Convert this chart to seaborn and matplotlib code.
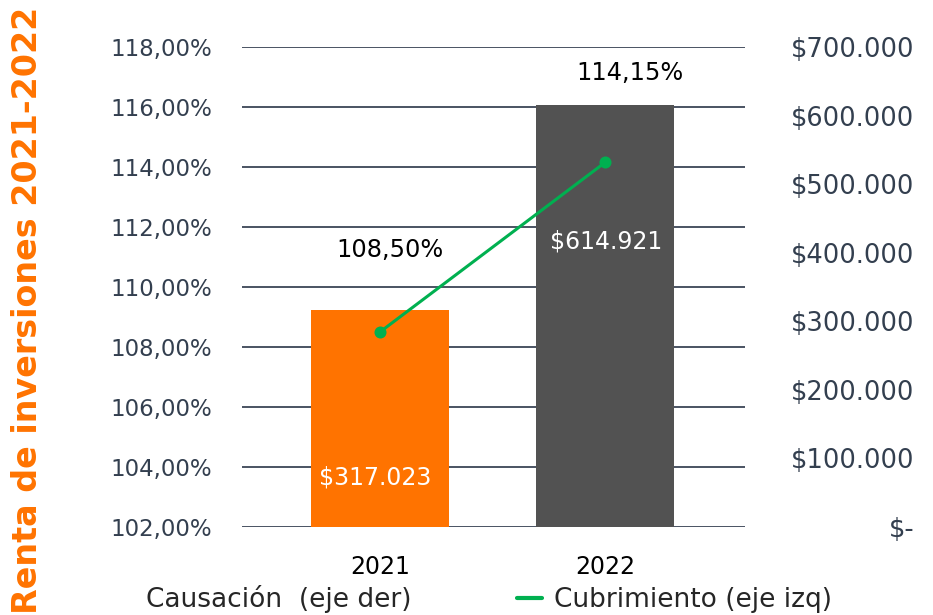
import matplotlib
matplotlib.use("Agg")
import matplotlib.pyplot as plt
import seaborn as sns
from matplotlib.lines import Line2D
from matplotlib.patches import Patch
from matplotlib.ticker import FuncFormatter, MultipleLocator

# data
years = ["2021", "2022"]
causacion = [317023, 614921]          # right axis, $
cubrimiento = [108.50, 114.15]        # left axis, %
pct_ticks = [102, 118, 2]
money_ticks = [0, 700000, 100000]

ORANGE = "#FF7300"
GRAY = "#525252"
GREEN = "#00B050"
TICK_C = "#333F4F"
GRID_C = "#3C4556"

sns.set_theme(style="white")
plt.rcParams["font.family"] = ["DejaVu Sans"]

fig = plt.figure(figsize=(9.33, 6.15), dpi=100)
ax = fig.add_axes([0.2594, 0.1431, 0.5391, 0.7805])
ax_bar = ax.twinx()
ax_line = ax.twinx()

# bars on right axis
sns.barplot(x=years, y=causacion, hue=years, palette=[ORANGE, GRAY],
            width=0.61, ax=ax_bar, legend=False, saturation=1, linewidth=0)
# line on left-axis scale (own twin so it sits above the bars)
sns.pointplot(x=years, y=cubrimiento, color=GREEN, markers="o",
              markersize=7, linewidth=2.2, ax=ax_line)

ax.set_ylim(pct_ticks[0], pct_ticks[1])
ax_line.set_ylim(pct_ticks[0], pct_ticks[1])
ax_bar.set_ylim(money_ticks[0], money_ticks[1])
ax.set_xlim(-0.613, 1.622)

ax.yaxis.set_major_locator(MultipleLocator(pct_ticks[2]))
ax.yaxis.set_major_formatter(FuncFormatter(lambda v, p: f"{v:.2f}%".replace(".", ",")))
ax_bar.yaxis.set_major_locator(MultipleLocator(money_ticks[2]))
ax_bar.yaxis.set_major_formatter(
    FuncFormatter(lambda v, p: "$-" if v == 0 else "$" + f"{int(v):,}".replace(",", ".")))

ax.grid(axis="y", color=GRID_C, linewidth=1.3)
ax.grid(axis="x", visible=False)
ax.set_xticks(range(len(years)), years)
ax.tick_params(axis="x", length=0, labelsize=17, labelcolor="black", pad=20)
ax.tick_params(axis="y", length=0, labelsize=16.5, labelcolor=TICK_C, pad=21.6)
ax_bar.tick_params(axis="y", length=0, labelsize=18.5, labelcolor=TICK_C, pad=122)
for lbl in ax_bar.get_yticklabels():
    lbl.set_horizontalalignment("right")
ax_line.set_yticks([])
for a in (ax, ax_bar, ax_line):
    a.set_xlabel("")
    a.set_ylabel("")
    for s in a.spines.values():
        s.set_visible(False)

# percentage labels
pct_offsets = [(10, 82), (25, 89)]
for i, (v, off) in enumerate(zip(cubrimiento, pct_offsets)):
    ax_line.annotate(f"{v:.2f}%".replace(".", ","), (i, v), xytext=off,
                     textcoords="offset pixels", ha="center", va="center",
                     fontsize=17.3, color="black")

# value labels inside bars
bar_offsets = [(-5, -168), (1, -136)]
for i, (v, off) in enumerate(zip(causacion, bar_offsets)):
    ax_bar.annotate("$" + f"{v:,}".replace(",", "."), (i, v), xytext=off,
                    textcoords="offset pixels", ha="center", va="center",
                    fontsize=17, color="white")

fig.text(0.030, 0.496, "Renta de inversiones 2021-2022", rotation=90,
         ha="center", va="center", fontsize=24, fontweight="bold", color=ORANGE)

handles = [Patch(facecolor="none", edgecolor="none"),
           Line2D([], [], color=GREEN, linewidth=3)]
fig.legend(handles, ["Causación  (eje der)", "Cubrimiento (eje izq)"],
           loc="center", bbox_to_anchor=(0.504, 0.026), ncol=2, frameon=False,
           fontsize=19, handlelength=0.95, handletextpad=0.45, columnspacing=4.0,
           borderaxespad=0, borderpad=0)

fig.savefig("out.png", dpi=100)
